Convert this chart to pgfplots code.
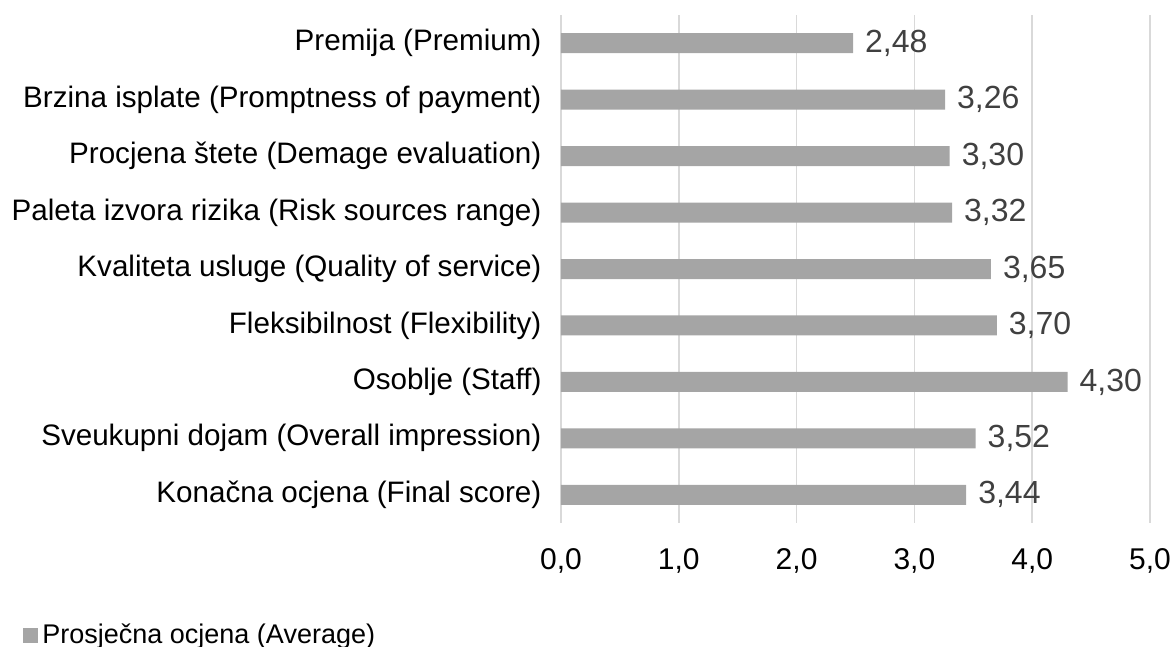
\documentclass[border=0pt]{standalone}
\usepackage{pgfplots}
\pgfplotsset{compat=1.18}
\usepackage{fontspec}
\setmainfont{Liberation Sans}
\definecolor{barc}{HTML}{A5A5A5}
\definecolor{gridc}{HTML}{D9D9D9}
\definecolor{lblc}{HTML}{404040}
\begin{document}
\begin{tikzpicture}
\useasboundingbox (0,0) rectangle (586.5pt,323.5pt);
\begin{axis}[
  at={(280.5pt,62pt)}, anchor=south west,
  xbar, bar width=10pt,
  width=294.5pt, height=254pt, scale only axis,
  xmin=0, xmax=5, ymin=-0.5, ymax=8.5,
  xtick={0,1,2,3,4,5},
  ytick={0,1,2,3,4,5,6,7,8},
  yticklabels={Konačna ocjena (Final score),Sveukupni dojam (Overall impression),Osoblje (Staff),Fleksibilnost (Flexibility),Kvaliteta usluge (Quality of service),Paleta izvora rizika (Risk sources range),Procjena štete (Demage evaluation),Brzina isplate (Promptness of payment),Premija (Premium)},
  axis line style={draw=none},
  tick style={draw=none},
  xmajorgrids, major grid style={gridc, line width=0.8pt},
  /pgf/number format/assume math mode=true,
  xticklabel style={font=\fontsize{15}{18}\selectfont, text=black, /pgf/number format/.cd, fixed, fixed zerofill, precision=1, use comma},
  yticklabel style={font=\fontsize{14.8}{17}\selectfont, text=black},
  xtick pos=bottom, ytick pos=left,
  xticklabel shift=9pt,
  yticklabel shift=2pt,
  nodes near coords,
  every node near coord/.append style={font=\fontsize{16}{19}\selectfont, text=lblc, xshift=2.5pt, /pgf/number format/.cd, fixed, fixed zerofill, precision=2, use comma},
  nodes near coords align={horizontal},
  legend style={at={(-0.9134,-0.2205)}, anchor=west, draw=none, fill=none, font=\fontsize{13.5}{16}\selectfont, inner sep=0pt},
  legend image code/.code={\fill[barc] (0pt,-3.75pt) rectangle (7.5pt,3.75pt);},
  legend cell align=left,
]
\addplot[fill=barc, draw=none] coordinates {
(3.44,0) (3.52,1) (4.30,2) (3.70,3) (3.65,4) (3.32,5) (3.30,6) (3.26,7) (2.48,8)
};
\addlegendentry{Prosječna ocjena (Average)}
\end{axis}
\end{tikzpicture}
\end{document}
